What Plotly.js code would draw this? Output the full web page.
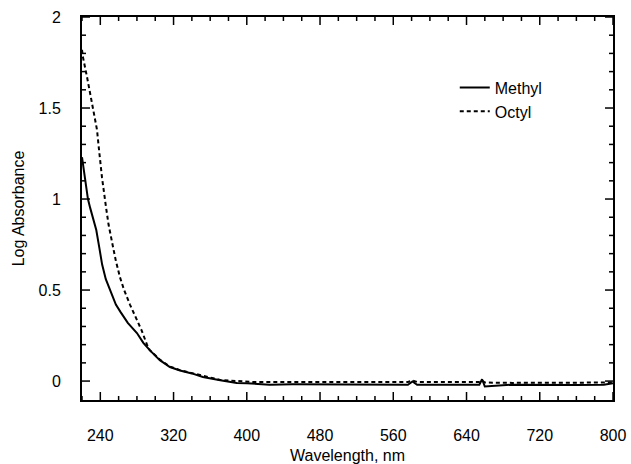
<!DOCTYPE html>
<html>
<head>
<meta charset="utf-8">
<script src="https://cdn.plot.ly/plotly-3.0.1.min.js"></script>
<style>html,body{margin:0;padding:0;background:#fff;}#chart{width:631px;height:464px;}</style>
</head>
<body>
<div id="chart"></div>
<script>
// Methyl (solid)
const methylWl = [220, 223, 226.5, 229, 232, 235.6, 239, 242, 246, 252, 257, 262, 270, 280, 287, 294, 305, 316, 327, 340, 352, 371, 389, 400, 425, 450, 500, 550, 576, 581, 586, 620, 654, 657, 660, 690, 720, 760, 790, 800];
const methylAbs = [1.23, 1.12, 1.0, 0.95, 0.89, 0.83, 0.73, 0.64, 0.56, 0.48, 0.42, 0.38, 0.32, 0.264, 0.21, 0.17, 0.115, 0.077, 0.058, 0.042, 0.022, 0.005, -0.01, -0.012, -0.02, -0.018, -0.02, -0.02, -0.02, -0.002, -0.02, -0.02, -0.02, 0.01, -0.03, -0.02, -0.022, -0.022, -0.02, -0.012];
// Octyl (dashed)
const octylWl = [220, 221, 225.5, 228.7, 232, 236.4, 238.6, 241.8, 246.2, 249, 253.9, 257, 261.5, 266, 272.4, 280, 285, 291, 294, 305, 316, 327, 340, 352, 371, 390, 407, 450, 500, 550, 576, 581, 586, 620, 654, 657, 660, 690, 720, 760, 790, 800];
const octylAbs = [1.82, 1.78, 1.67, 1.58, 1.49, 1.38, 1.27, 1.12, 0.956, 0.86, 0.736, 0.66, 0.57, 0.5, 0.42, 0.34, 0.28, 0.2, 0.17, 0.118, 0.08, 0.06, 0.044, 0.026, 0.006, 0.0, -0.005, -0.005, -0.005, -0.005, -0.005, 0.003, -0.005, -0.005, -0.005, 0.003, -0.008, -0.01, -0.01, -0.01, -0.012, -0.008];

const seriesNames = ['Methyl', 'Octyl'];
const xTickVals = [240, 320, 400, 480, 560, 640, 720, 800];
const yTickVals = [0, 0.5, 1, 1.5, 2];
const yTickText = ['0', '0.5', '1', '1.5', '2'];

const W = 631, H = 464, M = {l: 82, r: 18, t: 17, b: 64};
const plotW = W - M.l - M.r, plotH = H - M.t - M.b;
const xRange = [220, 800], yRange = [-0.104, 2.0];

const font = {family: 'Liberation Sans, Arial, Helvetica, sans-serif', size: 16, color: '#000'};

// inside, mirrored tick marks built from the tick arrays as short line segments
const pxX = (xRange[1] - xRange[0]) / plotW;   // data units per pixel (x)
const pxY = (yRange[1] - yRange[0]) / plotH;   // data units per pixel (y)
const tkX = [], tkY = [];
for (let v = xRange[0]; v <= xRange[1]; v += 20) {
  const len = (xTickVals.includes(v) ? 8 : 4) * pxY;
  tkX.push(v, v, null, v, v, null);
  tkY.push(yRange[0], yRange[0] + len, null, yRange[1], yRange[1] - len, null);
}
for (let i = 0; i <= 20; i++) {
  const val = i / 10;
  const len = (yTickVals.some(t => Math.abs(t - val) < 1e-9) ? 8 : 4) * pxX;
  tkX.push(xRange[0], xRange[0] + len, null, xRange[1], xRange[1] - len, null);
  tkY.push(val, val, null, val, val, null);
}

const traces = [
  {x: tkX, y: tkY, mode: 'lines', showlegend: false, hoverinfo: 'skip', connectgaps: false,
   line: {color: '#000', width: 1.5}},
  {x: methylWl, y: methylAbs, name: seriesNames[0], mode: 'lines', line: {color: '#000', width: 2}},
  {x: octylWl, y: octylAbs, name: seriesNames[1], mode: 'lines', line: {color: '#000', width: 2, dash: '4px,3px'}}
];

const layout = {
  width: W, height: H,
  margin: M,
  paper_bgcolor: '#fff', plot_bgcolor: '#fff',
  font: font,
  showlegend: true,
  legend: {x: 0.702, y: 0.86, xanchor: 'left', yanchor: 'top', bgcolor: 'rgba(0,0,0,0)', font: font, tracegroupgap: 0},
  xaxis: {
    range: xRange, tickvals: xTickVals, ticks: '',
    showline: true, linewidth: 2, linecolor: '#000', mirror: true, showgrid: false, zeroline: false,
    ticklabelstandoff: 20, tickfont: font,
    title: {text: 'Wavelength, nm', font: font, standoff: 8}
  },
  yaxis: {
    range: yRange, tickvals: yTickVals, ticktext: yTickText, ticks: '',
    showline: true, linewidth: 2, linecolor: '#000', mirror: true, showgrid: false, zeroline: false,
    ticklabelstandoff: 16, tickfont: font,
    title: {text: 'Log Absorbance', font: font, standoff: 10}
  }
};

Plotly.newPlot('chart', traces, layout, {displayModeBar: false, staticPlot: true});
</script>
</body>
</html>
